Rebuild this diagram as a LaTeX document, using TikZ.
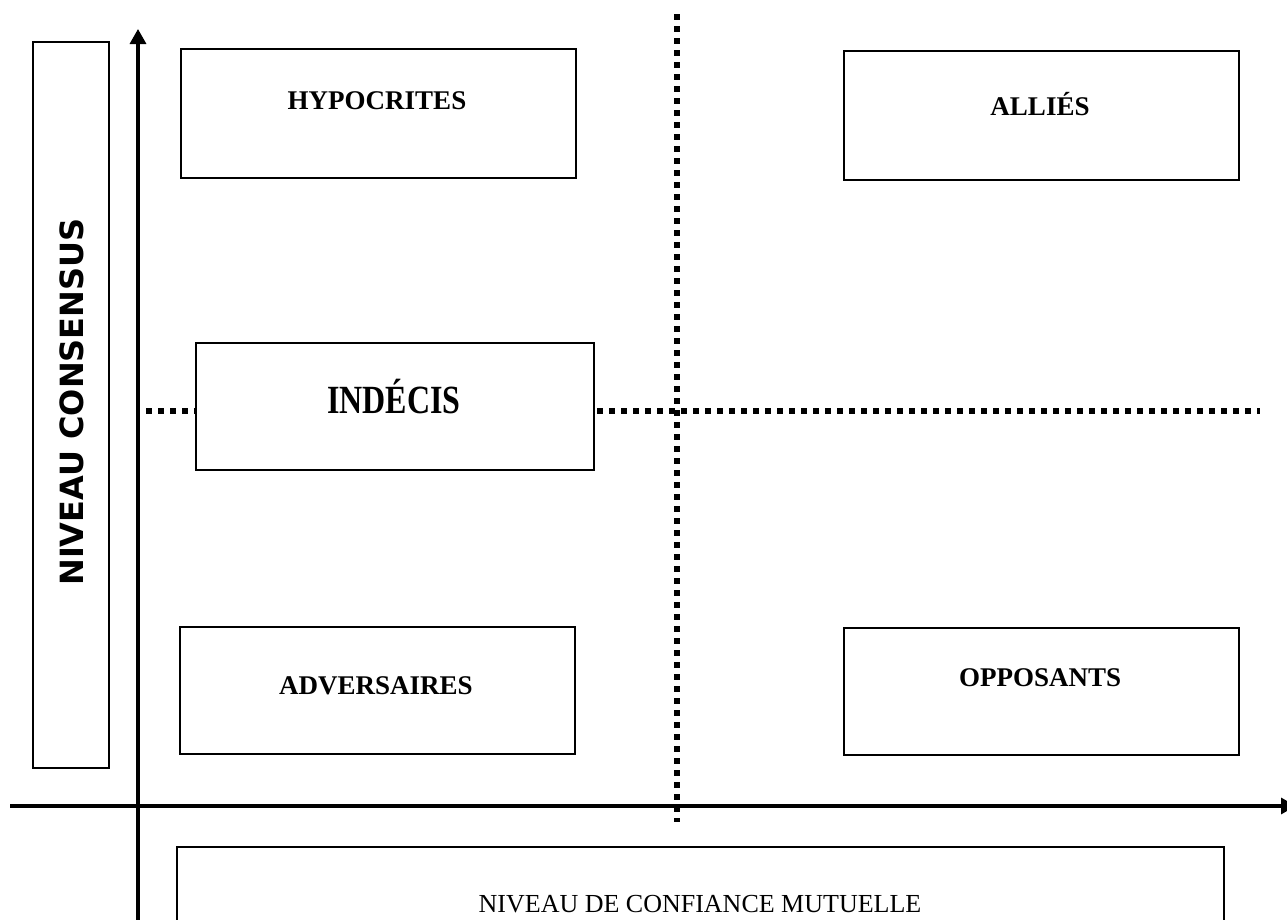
\documentclass[tikz,border=0pt]{standalone}
\usepackage{fontspec}
\setmainfont{Liberation Serif}
\newfontfamily\axisfont{DejaVu Sans}
\usetikzlibrary{arrows.meta}
\begin{document}
\begin{tikzpicture}[x=1pt,y=-1pt,
  box/.style={draw, line width=2.2pt, inner sep=0pt, anchor=north west},
  lbl/.style={font=\bfseries\fontsize{27}{27}\selectfont, inner sep=0pt},
  axis/.style={line width=3.2pt, -{Triangle[length=15pt,width=16pt]}},
  dots/.style={line width=6.5pt, dash pattern=on 6pt off 6pt}]
\useasboundingbox (0,0) rectangle (1287,919);

% axis caption boxes
\node[box, minimum width=76pt, minimum height=726pt] (ybox) at (32,41) {};
\node[rotate=90, inner sep=0pt, font=\axisfont\bfseries\fontsize{32}{32}\selectfont] (ytext) at (72,402) {NIVEAU CONSENSUS};
\node[box, minimum width=1047pt, minimum height=110pt] (xbox) at (176,846) {};
\node[inner sep=0pt, font=\fontsize{26}{26}\selectfont] (xtext) at (700,904.5) {NIVEAU DE CONFIANCE MUTUELLE};

% quadrant boxes
\node[box, minimum width=395pt, minimum height=129pt] (hyp) at (180,48) {};
\node[box, minimum width=395pt, minimum height=129pt] (all) at (843,50) {};
\node[box, minimum width=398pt, minimum height=127pt] (ind) at (195,342) {};
\node[box, minimum width=395pt, minimum height=127pt] (adv) at (179,626) {};
\node[box, minimum width=395pt, minimum height=127pt] (opp) at (843,627) {};

\node[lbl] (thyp) at (377,101) {HYPOCRITES};
\node[lbl] (tall) at (1040,104) {ALLIÉS};
\node[lbl, xscale=0.8, font=\bfseries\fontsize{40}{40}\selectfont] (tind) at (394,397) {INDÉCIS};
\node[lbl] (tadv) at (376,686) {ADVERSAIRES};
\node[lbl] (topp) at (1040,678) {OPPOSANTS};

% axes
\coordinate (ybot) at (138,930);
\coordinate (ytop) at (138,29);
\coordinate (xleft) at (10,806);
\coordinate (xright) at (1296,806);
\draw[axis] (ybot) -- (ytop);
\draw[axis] (xleft) -- (xright);

% dotted separators
\coordinate (vtop) at (677,14);
\coordinate (vbot) at (677,822);
\draw[dots] (vtop) -- (vbot);
\coordinate (hl) at (146,411);
\draw[dots] (hl) -- (ind.west |- hl);
\coordinate (hr) at (1260,411);
\draw[dots] ([xshift=2pt]ind.east |- hr) -- (hr);
\end{tikzpicture}
\end{document}
